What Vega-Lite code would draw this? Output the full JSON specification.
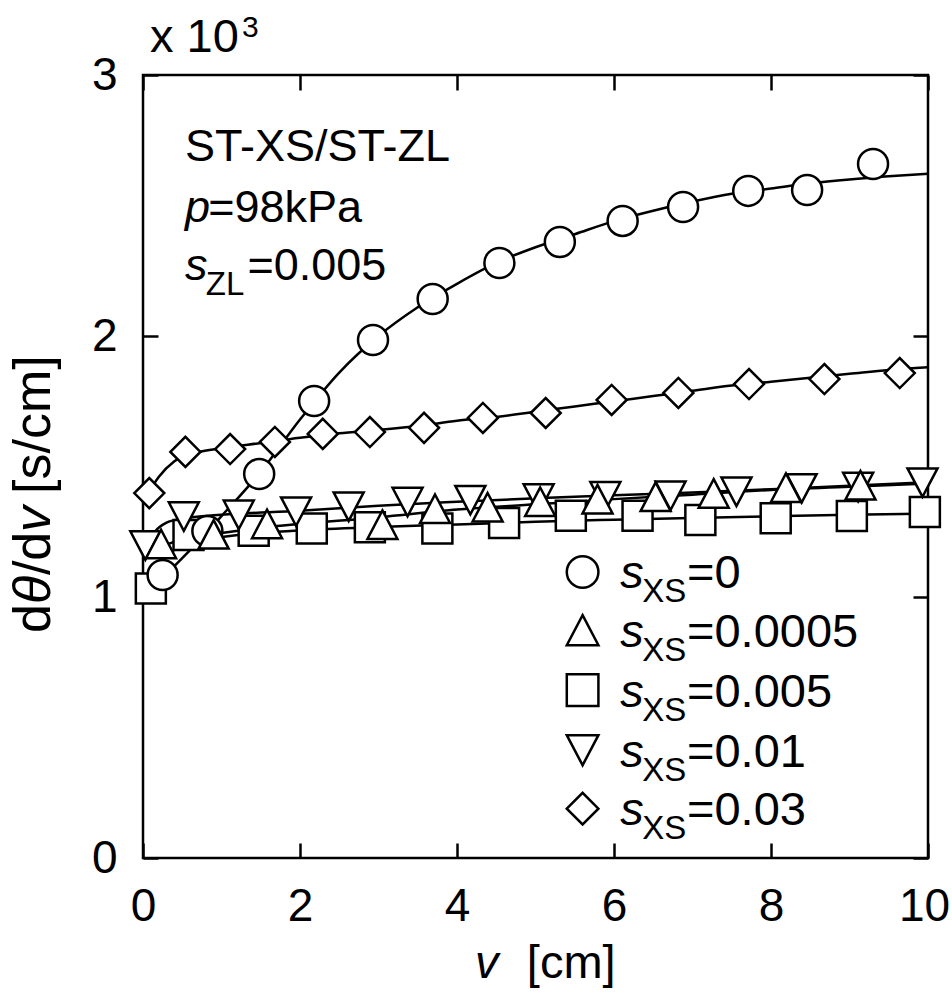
{
  "$schema": "https://vega.github.io/schema/vega-lite/v6.json",
  "width": 785,
  "height": 783,
  "autosize": {"type": "none"},
  "padding": {"left": 143, "top": 75, "right": 24, "bottom": 142},
  "background": "white",
  "config": {
    "view": {"stroke": "black", "strokeWidth": 2.5},
    "font": "Liberation Sans",
    "axis": {"grid": false, "domain": false, "tickColor": "black", "tickWidth": 2.5, "tickSize": -15, "labelColor": "black", "labelFont": "Liberation Sans", "labelFontSize": 46, "labelPadding": 41, "labelOverlap": false, "labelBound": false, "labelFlush": false, "title": null}
  },
  "datasets": {
    "fits": [
      {"s": "0", "x": 0.1, "y": 1.04}, {"s": "0", "x": 0.3, "y": 1.09}, {"s": "0", "x": 0.6, "y": 1.18}, {"s": "0", "x": 1.0, "y": 1.31}, {"s": "0", "x": 1.5, "y": 1.48}, {"s": "0", "x": 2.0, "y": 1.68}, {"s": "0", "x": 2.5, "y": 1.86}, {"s": "0", "x": 3.0, "y": 2.0}, {"s": "0", "x": 3.5, "y": 2.11}, {"s": "0", "x": 4.0, "y": 2.2}, {"s": "0", "x": 4.5, "y": 2.28}, {"s": "0", "x": 5.0, "y": 2.34}, {"s": "0", "x": 5.5, "y": 2.39}, {"s": "0", "x": 6.0, "y": 2.44}, {"s": "0", "x": 6.5, "y": 2.48}, {"s": "0", "x": 7.0, "y": 2.515}, {"s": "0", "x": 7.5, "y": 2.545}, {"s": "0", "x": 8.0, "y": 2.565}, {"s": "0", "x": 8.5, "y": 2.585}, {"s": "0", "x": 9.0, "y": 2.6}, {"s": "0", "x": 9.5, "y": 2.612}, {"s": "0", "x": 10, "y": 2.622},
      {"s": "0.03", "x": 0.05, "y": 1.39}, {"s": "0.03", "x": 0.2, "y": 1.46}, {"s": "0.03", "x": 0.4, "y": 1.52}, {"s": "0.03", "x": 0.7, "y": 1.555}, {"s": "0.03", "x": 1.0, "y": 1.57}, {"s": "0.03", "x": 1.5, "y": 1.59}, {"s": "0.03", "x": 2.0, "y": 1.61}, {"s": "0.03", "x": 2.5, "y": 1.627}, {"s": "0.03", "x": 3.0, "y": 1.64}, {"s": "0.03", "x": 3.5, "y": 1.655}, {"s": "0.03", "x": 4.0, "y": 1.675}, {"s": "0.03", "x": 4.5, "y": 1.69}, {"s": "0.03", "x": 5.0, "y": 1.71}, {"s": "0.03", "x": 5.5, "y": 1.73}, {"s": "0.03", "x": 6.0, "y": 1.75}, {"s": "0.03", "x": 6.5, "y": 1.77}, {"s": "0.03", "x": 7.0, "y": 1.79}, {"s": "0.03", "x": 7.5, "y": 1.81}, {"s": "0.03", "x": 8.0, "y": 1.825}, {"s": "0.03", "x": 8.5, "y": 1.84}, {"s": "0.03", "x": 9.0, "y": 1.855}, {"s": "0.03", "x": 9.5, "y": 1.87}, {"s": "0.03", "x": 10, "y": 1.88},
      {"s": "0.005", "x": 0.1, "y": 1.06}, {"s": "0.005", "x": 0.25, "y": 1.14}, {"s": "0.005", "x": 0.45, "y": 1.19}, {"s": "0.005", "x": 0.7, "y": 1.215}, {"s": "0.005", "x": 1.0, "y": 1.23}, {"s": "0.005", "x": 1.5, "y": 1.245}, {"s": "0.005", "x": 2.0, "y": 1.255}, {"s": "0.005", "x": 3.0, "y": 1.268}, {"s": "0.005", "x": 4.0, "y": 1.278}, {"s": "0.005", "x": 5.0, "y": 1.288}, {"s": "0.005", "x": 6.0, "y": 1.296}, {"s": "0.005", "x": 7.0, "y": 1.303}, {"s": "0.005", "x": 8.0, "y": 1.309}, {"s": "0.005", "x": 9.0, "y": 1.315}, {"s": "0.005", "x": 10, "y": 1.32},
      {"s": "0.01", "x": 0.03, "y": 1.19}, {"s": "0.01", "x": 0.15, "y": 1.25}, {"s": "0.01", "x": 0.3, "y": 1.285}, {"s": "0.01", "x": 0.5, "y": 1.3}, {"s": "0.01", "x": 1.0, "y": 1.315}, {"s": "0.01", "x": 2.0, "y": 1.33}, {"s": "0.01", "x": 3.0, "y": 1.35}, {"s": "0.01", "x": 4.0, "y": 1.365}, {"s": "0.01", "x": 5.0, "y": 1.378}, {"s": "0.01", "x": 6.0, "y": 1.39}, {"s": "0.01", "x": 7.0, "y": 1.4}, {"s": "0.01", "x": 8.0, "y": 1.413}, {"s": "0.01", "x": 9.0, "y": 1.426}, {"s": "0.01", "x": 10, "y": 1.44},
      {"s": "0.0005", "x": 0.1, "y": 1.16}, {"s": "0.0005", "x": 0.3, "y": 1.2}, {"s": "0.0005", "x": 0.6, "y": 1.225}, {"s": "0.0005", "x": 1.0, "y": 1.245}, {"s": "0.0005", "x": 1.5, "y": 1.265}, {"s": "0.0005", "x": 2.0, "y": 1.28}, {"s": "0.0005", "x": 3.0, "y": 1.305}, {"s": "0.0005", "x": 4.0, "y": 1.335}, {"s": "0.0005", "x": 5.0, "y": 1.355}, {"s": "0.0005", "x": 6.0, "y": 1.375}, {"s": "0.0005", "x": 7.0, "y": 1.392}, {"s": "0.0005", "x": 8.0, "y": 1.41}, {"s": "0.0005", "x": 9.0, "y": 1.422}, {"s": "0.0005", "x": 10, "y": 1.435}
    ],
    "points": [
      {"s": "0.005", "x": 0.10, "y": 1.033}, {"s": "0.005", "x": 0.58, "y": 1.238}, {"s": "0.005", "x": 1.41, "y": 1.254}, {"s": "0.005", "x": 2.15, "y": 1.262}, {"s": "0.005", "x": 2.89, "y": 1.267}, {"s": "0.005", "x": 3.75, "y": 1.262}, {"s": "0.005", "x": 4.60, "y": 1.284}, {"s": "0.005", "x": 5.45, "y": 1.311}, {"s": "0.005", "x": 6.30, "y": 1.311}, {"s": "0.005", "x": 7.10, "y": 1.295}, {"s": "0.005", "x": 8.06, "y": 1.302}, {"s": "0.005", "x": 9.03, "y": 1.310}, {"s": "0.005", "x": 9.96, "y": 1.326},
      {"s": "0", "x": 0.25, "y": 1.084}, {"s": "0", "x": 0.82, "y": 1.253}, {"s": "0", "x": 1.48, "y": 1.471}, {"s": "0", "x": 2.18, "y": 1.751}, {"s": "0", "x": 2.93, "y": 1.985}, {"s": "0", "x": 3.69, "y": 2.142}, {"s": "0", "x": 4.54, "y": 2.280}, {"s": "0", "x": 5.31, "y": 2.360}, {"s": "0", "x": 6.11, "y": 2.441}, {"s": "0", "x": 6.88, "y": 2.494}, {"s": "0", "x": 7.71, "y": 2.556}, {"s": "0", "x": 8.46, "y": 2.559}, {"s": "0", "x": 9.30, "y": 2.659},
      {"s": "0.01", "x": 0.03, "y": 1.197}, {"s": "0.01", "x": 0.52, "y": 1.308}, {"s": "0.01", "x": 1.22, "y": 1.315}, {"s": "0.01", "x": 1.95, "y": 1.327}, {"s": "0.01", "x": 2.62, "y": 1.346}, {"s": "0.01", "x": 3.37, "y": 1.364}, {"s": "0.01", "x": 4.17, "y": 1.371}, {"s": "0.01", "x": 5.04, "y": 1.377}, {"s": "0.01", "x": 5.89, "y": 1.386}, {"s": "0.01", "x": 6.72, "y": 1.388}, {"s": "0.01", "x": 7.56, "y": 1.403}, {"s": "0.01", "x": 8.39, "y": 1.416}, {"s": "0.01", "x": 9.11, "y": 1.421}, {"s": "0.01", "x": 9.93, "y": 1.438},
      {"s": "0.0005", "x": 0.23, "y": 1.203}, {"s": "0.0005", "x": 0.90, "y": 1.240}, {"s": "0.0005", "x": 1.58, "y": 1.280}, {"s": "0.0005", "x": 3.05, "y": 1.277}, {"s": "0.0005", "x": 3.72, "y": 1.338}, {"s": "0.0005", "x": 4.39, "y": 1.344}, {"s": "0.0005", "x": 5.06, "y": 1.365}, {"s": "0.0005", "x": 5.79, "y": 1.375}, {"s": "0.0005", "x": 6.53, "y": 1.384}, {"s": "0.0005", "x": 7.27, "y": 1.397}, {"s": "0.0005", "x": 8.19, "y": 1.419}, {"s": "0.0005", "x": 9.14, "y": 1.428},
      {"s": "0.03", "x": 0.08, "y": 1.398}, {"s": "0.03", "x": 0.54, "y": 1.556}, {"s": "0.03", "x": 1.11, "y": 1.567}, {"s": "0.03", "x": 1.68, "y": 1.594}, {"s": "0.03", "x": 2.29, "y": 1.625}, {"s": "0.03", "x": 2.89, "y": 1.632}, {"s": "0.03", "x": 3.58, "y": 1.648}, {"s": "0.03", "x": 4.33, "y": 1.686}, {"s": "0.03", "x": 5.13, "y": 1.705}, {"s": "0.03", "x": 5.97, "y": 1.755}, {"s": "0.03", "x": 6.82, "y": 1.782}, {"s": "0.03", "x": 7.72, "y": 1.816}, {"s": "0.03", "x": 8.68, "y": 1.835}, {"s": "0.03", "x": 9.64, "y": 1.858}
    ],
    "legend": [
      {"s": "0", "y": 1.096, "v": "=0"},
      {"s": "0.0005", "y": 0.873, "v": "=0.0005"},
      {"s": "0.005", "y": 0.643, "v": "=0.005"},
      {"s": "0.01", "y": 0.413, "v": "=0.01"},
      {"s": "0.03", "y": 0.189, "v": "=0.03"}
    ]
  },
  "layer": [
    {
      "data": {"name": "fits"},
      "mark": {"type": "line", "interpolate": "monotone", "color": "black", "strokeWidth": 2.5},
      "encoding": {
        "x": {"field": "x", "type": "quantitative", "scale": {"domain": [0, 10], "nice": false, "zero": false}, "axis": {"orient": "bottom", "values": [0, 2, 4, 6, 8, 10], "labelOffset": {"condition": {"test": "datum.value == 10", "value": -4}, "value": 0}}},
        "y": {"field": "y", "type": "quantitative", "scale": {"domain": [0, 3], "nice": false, "zero": false}, "axis": {"orient": "left", "values": [0, 1, 2, 3]}},
        "detail": {"field": "s"}
      }
    },
    {
      "data": {"name": "points"},
      "mark": {"type": "point", "filled": true, "fill": "white", "stroke": "black", "strokeWidth": 2.5, "opacity": 1, "size": 900},
      "encoding": {
        "x": {"field": "x", "type": "quantitative", "axis": {"orient": "top", "values": [0, 2, 4, 6, 8, 10], "labels": false}},
        "y": {"field": "y", "type": "quantitative", "axis": {"orient": "right", "values": [0, 1, 2, 3], "labels": false}},
        "shape": {"field": "s", "type": "nominal", "scale": {"domain": ["0", "0.0005", "0.005", "0.01", "0.03"], "range": ["circle", "M0,-0.95L1,0.95L-1,0.95Z", "square", "M-1,-0.95L1,-0.95L0,0.95Z", "diamond"]}, "legend": null}
      }
    },
    {
      "data": {"name": "legend"},
      "mark": {"type": "point", "filled": true, "fill": "white", "stroke": "black", "strokeWidth": 2.5, "opacity": 1, "size": 1000},
      "encoding": {
        "x": {"datum": 5.6, "type": "quantitative", "axis": null},
        "y": {"field": "y", "type": "quantitative", "axis": null},
        "shape": {"field": "s", "type": "nominal", "legend": null}
      }
    },
    {
      "data": {"name": "legend"},
      "mark": {"type": "text", "text": "s", "font": "Liberation Sans", "fontStyle": "italic", "fontSize": 47, "align": "left", "baseline": "alphabetic", "dy": 16.5, "color": "black"},
      "encoding": {
        "x": {"datum": 6.08, "type": "quantitative", "axis": null},
        "y": {"field": "y", "type": "quantitative", "axis": null}
      }
    },
    {
      "data": {"name": "legend"},
      "mark": {"type": "text", "text": "XS", "font": "Liberation Sans", "fontSize": 33, "align": "left", "baseline": "alphabetic", "dy": 30.5, "color": "black"},
      "encoding": {
        "x": {"datum": 6.36, "type": "quantitative", "axis": null},
        "y": {"field": "y", "type": "quantitative", "axis": null}
      }
    },
    {
      "data": {"name": "legend"},
      "mark": {"type": "text", "font": "Liberation Sans", "fontSize": 47, "align": "left", "baseline": "alphabetic", "dy": 16.5, "color": "black"},
      "encoding": {
        "x": {"datum": 6.93, "type": "quantitative", "axis": null},
        "y": {"field": "y", "type": "quantitative", "axis": null},
        "text": {"field": "v"}
      }
    },
    {
      "data": {"values": [
        {"x": 0.535, "y": 2.670, "t": "ST-XS/ST-ZL"},
        {"x": 0.83, "y": 2.438, "t": "=98kPa"},
        {"x": 1.33, "y": 2.215, "t": "=0.005"}
      ]},
      "mark": {"type": "text", "font": "Liberation Sans", "fontSize": 45, "align": "left", "baseline": "alphabetic", "color": "black"},
      "encoding": {
        "x": {"field": "x", "type": "quantitative", "axis": null},
        "y": {"field": "y", "type": "quantitative", "axis": null},
        "text": {"field": "t"}
      }
    },
    {
      "data": {"values": [
        {"x": 0.535, "y": 2.438, "t": "p"},
        {"x": 0.535, "y": 2.215, "t": "s"}
      ]},
      "mark": {"type": "text", "font": "Liberation Sans", "fontStyle": "italic", "fontSize": 45, "align": "left", "baseline": "alphabetic", "color": "black"},
      "encoding": {
        "x": {"field": "x", "type": "quantitative", "axis": null},
        "y": {"field": "y", "type": "quantitative", "axis": null},
        "text": {"field": "t"}
      }
    },
    {
      "data": {"values": [
        {"x": 0.80, "y": 2.215, "t": "ZL"}
      ]},
      "mark": {"type": "text", "font": "Liberation Sans", "fontSize": 33, "align": "left", "baseline": "alphabetic", "dy": 15, "color": "black"},
      "encoding": {
        "x": {"field": "x", "type": "quantitative", "axis": null},
        "y": {"field": "y", "type": "quantitative", "axis": null},
        "text": {"field": "t"}
      }
    },
    {
      "data": {"values": [
        {"x": 0.09, "y": 3.088, "t": "x 10"}
      ]},
      "mark": {"type": "text", "font": "Liberation Sans", "fontSize": 47, "align": "left", "baseline": "alphabetic", "color": "black"},
      "encoding": {
        "x": {"field": "x", "type": "quantitative", "axis": null},
        "y": {"field": "y", "type": "quantitative", "axis": null},
        "text": {"field": "t"}
      }
    },
    {
      "data": {"values": [
        {"x": 1.26, "y": 3.088, "t": "3"}
      ]},
      "mark": {"type": "text", "font": "Liberation Sans", "fontSize": 30, "align": "left", "baseline": "alphabetic", "dy": -15, "color": "black"},
      "encoding": {
        "x": {"field": "x", "type": "quantitative", "axis": null},
        "y": {"field": "y", "type": "quantitative", "axis": null},
        "text": {"field": "t"}
      }
    },
    {
      "data": {"values": [
        {"x": 4.23, "y": -0.46, "t": "v"}
      ]},
      "mark": {"type": "text", "font": "Liberation Sans", "fontStyle": "italic", "fontSize": 47, "align": "left", "baseline": "alphabetic", "color": "black"},
      "encoding": {
        "x": {"field": "x", "type": "quantitative", "axis": null},
        "y": {"field": "y", "type": "quantitative", "axis": null},
        "text": {"field": "t"}
      }
    },
    {
      "data": {"values": [
        {"x": 4.89, "y": -0.46, "t": "[cm]"}
      ]},
      "mark": {"type": "text", "font": "Liberation Sans", "fontSize": 47, "align": "left", "baseline": "alphabetic", "color": "black"},
      "encoding": {
        "x": {"field": "x", "type": "quantitative", "axis": null},
        "y": {"field": "y", "type": "quantitative", "axis": null},
        "text": {"field": "t"}
      }
    },
    {
      "data": {"values": [
        {"x": -1.185, "y": 0.862, "t": "d"},
        {"x": -1.185, "y": 1.084, "t": "/d"},
        {"x": -1.185, "y": 1.395, "t": "[s/cm]"}
      ]},
      "mark": {"type": "text", "font": "Liberation Sans", "fontSize": 52, "angle": 270, "align": "left", "baseline": "alphabetic", "color": "black"},
      "encoding": {
        "x": {"field": "x", "type": "quantitative", "axis": null},
        "y": {"field": "y", "type": "quantitative", "axis": null},
        "text": {"field": "t"}
      }
    },
    {
      "data": {"values": [
        {"x": -1.185, "y": 0.973, "t": "θ"},
        {"x": -1.185, "y": 1.249, "t": "v"}
      ]},
      "mark": {"type": "text", "font": "Liberation Sans", "fontStyle": "italic", "fontSize": 52, "angle": 270, "align": "left", "baseline": "alphabetic", "color": "black"},
      "encoding": {
        "x": {"field": "x", "type": "quantitative", "axis": null},
        "y": {"field": "y", "type": "quantitative", "axis": null},
        "text": {"field": "t"}
      }
    }
  ],
  "resolve": {"axis": {"x": "independent", "y": "independent"}}
}
